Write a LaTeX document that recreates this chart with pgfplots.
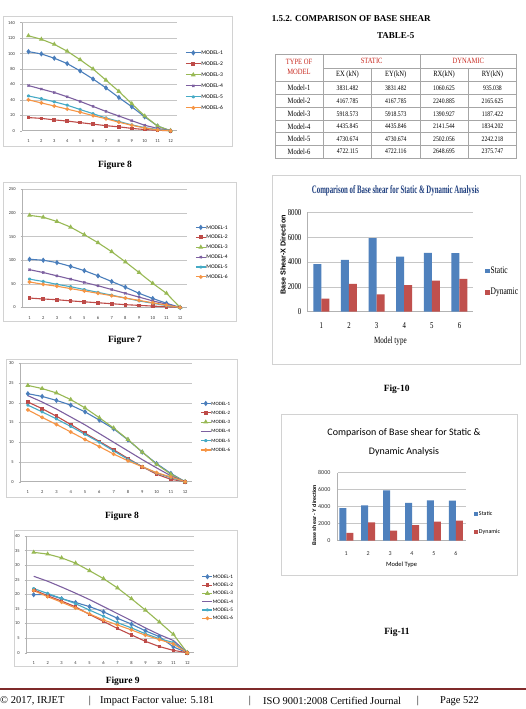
\documentclass[border=0pt]{standalone}
\usepackage{pgfplots}
\pgfplotsset{compat=1.18}
\usepackage{fontspec}
\setmainfont{Liberation Serif}
\newfontfamily\carlito{Carlito}
\newfontfamily\arialf{Liberation Sans}
\newfontfamily\condf[FakeStretch=0.75]{Liberation Serif}
\newfontfamily\titlef[FakeStretch=0.6]{Liberation Serif}
\newfontfamily\tabf[FakeStretch=0.82]{Liberation Serif}
\definecolor{cb}{HTML}{4A7EBB}
\definecolor{cr}{HTML}{BE4B48}
\definecolor{cg}{HTML}{98B954}
\definecolor{cp}{HTML}{7D60A0}
\definecolor{cc}{HTML}{46AAC5}
\definecolor{co}{HTML}{F69545}
\definecolor{barb}{HTML}{4F81BD}
\definecolor{barr}{HTML}{C0504D}
\definecolor{tred}{HTML}{C8281E}
\definecolor{navy}{HTML}{1F3F7F}
\definecolor{footc}{HTML}{7F2A2A}
\pgfplotsset{
  lc/.style={
    scale only axis, anchor=north west, clip=false,
    xmin=0.5, xmax=12.5, xtick={1,...,12}, ymin=0,
    axis lines=left, axis line style={-, draw=gray!60, line width=0.5pt},
    ymajorgrids, grid style={draw=gray!45, line width=0.5pt},
    xtick style={draw=none}, ytick style={draw=gray!60, line width=0.4pt},
    tick align=outside, major tick length=2pt,
    tick label style={font=\carlito\fontsize{4.5}{5}\selectfont, text=black!80},
    xticklabel style={yshift=-3.5pt}, yticklabel style={xshift=-1.5pt},
    /pgf/number format/assume math mode=true,
    every axis plot/.append style={line width=1.1pt, mark options={solid}},
    legend cell align=left,
  },
  lgd/.style n args={4}{legend style={draw=none, fill=none, at={(#1,#2)}, anchor=west, inner sep=0pt,
      font=\carlito\fontsize{#3}{#3}\selectfont, row sep=#4,
      nodes={inner sep=0pt, text height=3.8pt, text depth=0.6pt}}},
  lgl/.style={legend image code/.code={\draw[mark repeat=2,mark phase=2,##1] plot coordinates {(0pt,0pt) (#1/2,0pt) (#1,0pt)};}},
  s1/.style={color=cb, mark=diamond*, mark size=1.8pt},
  s2/.style={color=cr, mark=square*, mark size=1.3pt},
  s3/.style={color=cg, mark=triangle*, mark size=1.7pt},
  s4/.style={color=cp, mark=x, mark size=1.5pt},
  s5/.style={color=cc, mark=asterisk, mark size=1.5pt},
  s6/.style={color=co, mark=*, mark size=1.3pt},
  s4n/.style={color=cp, mark=none},
  bc/.style={
    scale only axis, anchor=north west, ybar=0pt,
    ymin=0, ymax=8000, ytick={0,2000,4000,6000,8000}, xtick={1,...,6},
    axis lines=left, axis line style={-, draw=gray!60, line width=0.5pt},
    ymajorgrids, grid style={draw=gray!45, line width=0.5pt},
    tick style={draw=none}, scaled y ticks=false,
    /pgf/number format/1000 sep={},
    /pgf/number format/assume math mode=true,
    legend cell align=left,
    legend image code/.code={\fill[##1] (0pt,-2.3pt) rectangle (4.6pt,2.3pt);},
  },
}
\begin{document}
\begin{tikzpicture}
\path[use as bounding box, fill=white] (0,0) rectangle (526pt,-709pt);

% ---------- frames ----------
\begin{scope}[draw=gray!35, line width=0.7pt]
\draw (3pt,-16pt) rectangle (232pt,-146pt);
\draw (3pt,-182.3pt) rectangle (236pt,-321pt);
\draw (6pt,-359pt) rectangle (237pt,-497pt);
\draw (14pt,-530pt) rectangle (237pt,-666pt);
\draw (272pt,-175pt) rectangle (520pt,-364pt);
\draw (281.7pt,-414pt) rectangle (517pt,-575pt);
\end{scope}

% ---------- Chart 1 (Figure 8 top) ----------
\begin{axis}[lc, at={(22pt,-22.7pt)}, width=155pt, height=108pt, ymax=140, ytick={0,20,...,140},
  lgd={1.052}{0.466}{5.6}{6.6pt}, lgl=15pt]
\addplot[s1] coordinates {(1,102.5)(2,99.5)(3,94)(4,87)(5,77.5)(6,67)(7,55.5)(8,43)(9,31)(10,18)(11,6)(12,0)};
\addplot[s2] coordinates {(1,17)(2,16)(3,14)(4,12.5)(5,10.5)(6,8.5)(7,6.5)(8,5)(9,3)(10,1.5)(11,0.5)(12,0)};
\addplot[s3] coordinates {(1,123)(2,118.5)(3,112)(4,103)(5,92)(6,80)(7,65.5)(8,51)(9,35)(10,19)(11,6)(12,0)};
\addplot[s4] coordinates {(1,58.5)(2,54)(3,49.5)(4,44)(5,38)(6,31.5)(7,25)(8,19)(9,13)(10,7)(11,3)(12,0)};
\addplot[s5] coordinates {(1,45)(2,41.5)(3,37.5)(4,33)(5,27.5)(6,22)(7,16.5)(8,12)(9,7.5)(10,4)(11,1.5)(12,0)};
\addplot[s6] coordinates {(1,40)(2,36)(3,32)(4,28)(5,24)(6,19.5)(7,15.5)(8,11)(9,7)(10,3.5)(11,1)(12,0)};
\legend{MODEL-1,MODEL-2,MODEL-3,MODEL-4,MODEL-5,MODEL-6}
\end{axis}

% ---------- Chart 2 (Figure 7) ----------
\begin{axis}[lc, at={(22.7pt,-189.3pt)}, width=164.3pt, height=118.2pt, ymax=250, ytick={0,50,...,250},
  lgd={1.049}{0.468}{5.5}{5.5pt}, lgl=10pt]
\addplot[s1] coordinates {(1,102)(2,100)(3,95)(4,87)(5,78)(6,67)(7,55)(8,43)(9,30)(10,19)(11,9)(12,0)};
\addplot[s2] coordinates {(1,20)(2,18)(3,16.5)(4,14)(5,12)(6,10)(7,8)(8,6)(9,4.5)(10,3)(11,1.5)(12,0)};
\addplot[s3] coordinates {(1,195)(2,191)(3,182)(4,170)(5,154)(6,137)(7,118)(8,96.5)(9,74)(10,51)(11,30)(12,0)};
\addplot[s4] coordinates {(1,80)(2,74)(3,67)(4,60)(5,53)(6,46)(7,38)(8,30)(9,22)(10,14)(11,7)(12,0)};
\addplot[s5] coordinates {(1,60)(2,55)(3,49)(4,44)(5,38)(6,32)(7,26)(8,20)(9,14)(10,9)(11,4)(12,0)};
\addplot[s6] coordinates {(1,54)(2,49)(3,45)(4,40)(5,35)(6,30)(7,25)(8,20)(9,15)(10,10)(11,5)(12,0)};
\legend{MODEL-1,MODEL-2,MODEL-3,MODEL-4,MODEL-5,MODEL-6}
\end{axis}

% ---------- Chart 3 (Figure 8 second) ----------
\begin{axis}[lc, at={(20.7pt,-363.3pt)}, width=171.6pt, height=118.4pt, ymax=30, ytick={0,5,...,30},
  lgd={1.045}{0.4645}{4.9}{4.9pt}, lgl=10pt]
\addplot[s1] coordinates {(1,22.3)(2,21.6)(3,20.6)(4,19.4)(5,17.7)(6,15.6)(7,13.4)(8,10.6)(9,7.5)(10,4.6)(11,2.1)(12,0)};
\addplot[s2] coordinates {(1,20.2)(2,18.5)(3,16.6)(4,14.5)(5,12.3)(6,10.2)(7,8.1)(8,5.9)(9,3.8)(10,1.9)(11,0.6)(12,0)};
\addplot[s3] coordinates {(1,24.4)(2,23.6)(3,22.5)(4,20.8)(5,18.7)(6,16.2)(7,13.6)(8,10.7)(9,7.5)(10,4.4)(11,1.9)(12,0)};
\addplot[s4n] coordinates {(1,21.8)(2,20.2)(3,18.4)(4,16.4)(5,14.4)(6,12.2)(7,10)(8,7.8)(9,5.6)(10,3.5)(11,1.5)(12,0)};
\addplot[s5] coordinates {(1,19.4)(2,17.7)(3,15.9)(4,14.0)(5,12.0)(6,10.0)(7,7.8)(8,5.7)(9,3.8)(10,2.2)(11,1.0)(12,0)};
\addplot[s6] coordinates {(1,18.2)(2,16.3)(3,14.5)(4,12.6)(5,10.7)(6,8.9)(7,7.0)(8,5.3)(9,3.8)(10,2.3)(11,1.2)(12,0)};
\legend{MODEL-1,MODEL-2,MODEL-3,MODEL-4,MODEL-5,MODEL-6}
\end{axis}

% ---------- Chart 4 (Figure 9) ----------
\begin{axis}[lc, at={(26.7pt,-536pt)}, width=167.6pt, height=116.7pt, ymax=40, ytick={0,5,...,40},
  lgd={1.044}{0.473}{5.2}{3.9pt}, lgl=10pt]
\addplot[s1] coordinates {(1,19.9)(2,20.0)(3,18.5)(4,17.2)(5,15.8)(6,14.0)(7,11.8)(8,9.8)(9,7.5)(10,5.5)(11,2.0)(12,0)};
\addplot[s2] coordinates {(1,21.6)(2,19.5)(3,17.7)(4,15.7)(5,13.1)(6,10.7)(7,8.3)(8,6.1)(9,3.9)(10,2.1)(11,0.8)(12,0)};
\addplot[s3] coordinates {(1,34.4)(2,33.8)(3,32.5)(4,30.7)(5,28.1)(6,25.4)(7,22.2)(8,18.5)(9,14.6)(10,10.5)(11,6.3)(12,0)};
\addplot[s4n] coordinates {(1,26.2)(2,24.5)(3,22.5)(4,20.4)(5,18.2)(6,15.8)(7,13.4)(8,11.0)(9,8.5)(10,6.2)(11,4.2)(12,0)};
\addplot[s5] coordinates {(1,22.0)(2,20.3)(3,18.6)(4,16.8)(5,14.6)(6,12.5)(7,10.3)(8,8.5)(9,6.5)(10,4.8)(11,3.5)(12,0)};
\addplot[s6] coordinates {(1,21.3)(2,19.2)(3,17.3)(4,15.3)(5,13.3)(6,11.2)(7,9.5)(8,7.8)(9,6.0)(10,4.5)(11,3.0)(12,0)};
\legend{MODEL-1,MODEL-2,MODEL-3,MODEL-4,MODEL-5,MODEL-6}
\end{axis}

% ---------- captions ----------
\begin{scope}[font=\bfseries\fontsize{9.5}{11}\selectfont]
\node at (115pt,-165pt) {Figure 8};
\node at (125pt,-340.7pt) {Figure 7};
\node at (122pt,-516pt) {Figure 8};
\node at (122.7pt,-681pt) {Figure 9};
\node at (396.7pt,-389pt) {Fig-10};
\node at (397pt,-632pt) {Fig-11};
\end{scope}

% ---------- heading and table ----------
\node[anchor=west, font=\bfseries\fontsize{9}{10}\selectfont, inner sep=0pt] at (271.7pt,-18.3pt) {1.5.2. COMPARISON OF BASE SHEAR};
\node[font=\bfseries\fontsize{9}{10}\selectfont] at (395.8pt,-36pt) {TABLE-5};
\begin{scope}[draw=gray!70, line width=0.5pt]
\draw (275pt,-54.3pt) rectangle (516.7pt,-158pt);
\draw (323.3pt,-54.3pt) -- (323.3pt,-158pt);
\draw (420pt,-54.3pt) -- (420pt,-158pt);
\draw (371.7pt,-68pt) -- (371.7pt,-158pt);
\draw (468.3pt,-68pt) -- (468.3pt,-158pt);
\draw (323.3pt,-68pt) -- (516.7pt,-68pt);
\foreach \y in {81.5,94.5,107.5,120.3,132.7,145.3} \draw (275pt,-\y pt) -- (516.7pt,-\y pt);
\end{scope}
\begin{scope}[font=\tabf\fontsize{8}{9}\selectfont]
\node[tred] at (299pt,-61.7pt) {TYPE OF};
\node[tred] at (299pt,-72.3pt) {MODEL};
\node[tred] at (371.7pt,-61.2pt) {STATIC};
\node[tred] at (468.3pt,-61.2pt) {DYNAMIC};
\node at (347.5pt,-75pt) {EX (kN)};
\node at (395.8pt,-75pt) {EY(kN)};
\node at (444pt,-75pt) {RX(kN)};
\node at (492.5pt,-75pt) {RY(kN)};
\node at (299pt,-88pt) {Model-1};
\node at (299pt,-101pt) {Model-2};
\node at (299pt,-113.9pt) {Model-3};
\node at (299pt,-126.5pt) {Model-4};
\node at (299pt,-139pt) {Model-5};
\node at (299pt,-151.7pt) {Model-6};
\end{scope}
\begin{scope}[font=\tabf\fontsize{7}{8}\selectfont]
\node at (347.5pt,-88pt) {3831.482}; \node at (395.8pt,-88pt) {3831.482}; \node at (444pt,-88pt) {1060.625}; \node at (492.5pt,-88pt) {935.038};
\node at (347.5pt,-101pt) {4167.785}; \node at (395.8pt,-101pt) {4167.785}; \node at (444pt,-101pt) {2240.885}; \node at (492.5pt,-101pt) {2165.625};
\node at (347.5pt,-113.9pt) {5918.573}; \node at (395.8pt,-113.9pt) {5918.573}; \node at (444pt,-113.9pt) {1390.927}; \node at (492.5pt,-113.9pt) {1187.422};
\node at (347.5pt,-126.5pt) {4435.845}; \node at (395.8pt,-126.5pt) {4435.846}; \node at (444pt,-126.5pt) {2141.544}; \node at (492.5pt,-126.5pt) {1834.202};
\node at (347.5pt,-139pt) {4730.674}; \node at (395.8pt,-139pt) {4730.674}; \node at (444pt,-139pt) {2502.056}; \node at (492.5pt,-139pt) {2242.218};
\node at (347.5pt,-151.7pt) {4722.115}; \node at (395.8pt,-151.7pt) {4722.116}; \node at (444pt,-151.7pt) {2648.695}; \node at (492.5pt,-151.7pt) {2375.747};
\end{scope}

% ---------- Fig-10 ----------
\node[navy, font=\titlef\bfseries\fontsize{11.4}{12}\selectfont] at (395.5pt,-190.7pt) {Comparison of Base shear for Static \& Dynamic Analysis};
\node[rotate=90, font=\arialf\bfseries\fontsize{7.2}{8}\selectfont] at (283pt,-255pt) {Base Shear-X Direction};
\begin{axis}[bc, at={(307.5pt,-212.3pt)}, width=165.8pt, height=99.4pt, xmin=0.5, xmax=6.5, bar width=8pt,
  tick label style={font=\condf\fontsize{9}{10}\selectfont},
  xticklabel style={yshift=-5pt}, yticklabel style={xshift=-0.5pt},
  xlabel={Model type}, xlabel style={font=\condf\fontsize{9.5}{10}\selectfont, yshift=-2pt},
  legend style={draw=none, fill=none, at={(1.071,0.302)}, anchor=west, inner sep=0pt,
    font=\condf\fontsize{10}{11}\selectfont, row sep=12pt,
    nodes={inner sep=0.8pt, text height=6pt, text depth=1.5pt}}]
\addplot[fill=barb, draw=none] coordinates {(1,3831.482)(2,4167.785)(3,5918.573)(4,4435.845)(5,4730.674)(6,4722.115)};
\addplot[fill=barr, draw=none] coordinates {(1,1060.625)(2,2240.885)(3,1390.927)(4,2141.544)(5,2502.056)(6,2648.695)};
\legend{Static,Dynamic}
\end{axis}

% ---------- Fig-11 ----------
\node[font=\carlito\fontsize{10}{11}\selectfont] at (404pt,-432.7pt) {Comparison of Base shear for Static \&};
\node[font=\carlito\fontsize{10}{11}\selectfont] at (404pt,-452.3pt) {Dynamic Analysis};
\node[rotate=90, font=\arialf\bfseries\fontsize{5.3}{6}\selectfont] at (314.2pt,-515pt) {Base shear - Y direction};
\begin{axis}[bc, at={(337.5pt,-472.7pt)}, width=128.2pt, height=68pt, xmin=0.6, xmax=6.45, bar width=7pt,
  tick label style={font=\carlito\fontsize{6}{7}\selectfont, text=black!80},
  xticklabel style={yshift=-5pt}, yticklabel style={xshift=-1.5pt},
  xlabel={Model Type}, xlabel style={font=\carlito\fontsize{6.5}{7}\selectfont, yshift=0pt},
  legend style={draw=none, fill=none, at={(1.06,0.26)}, anchor=west, inner sep=0pt,
    font=\carlito\fontsize{6}{7}\selectfont, row sep=11pt,
    nodes={inner sep=0.8pt, text height=4.5pt, text depth=1pt}}]
\addplot[fill=barb, draw=none] coordinates {(1,3831.482)(2,4167.785)(3,5918.573)(4,4435.846)(5,4730.674)(6,4722.116)};
\addplot[fill=barr, draw=none] coordinates {(1,935.038)(2,2165.625)(3,1187.422)(4,1834.202)(5,2242.218)(6,2375.747)};
\legend{Static,Dynamic}
\end{axis}

% ---------- footer ----------
\draw[footc, line width=2pt] (0pt,-689.3pt) -- (526pt,-689.3pt);
\begin{scope}[font=\fontsize{10.5}{12}\selectfont, inner sep=0pt]
\node[anchor=west] at (0pt,-701pt) {\textcopyright{} 2017, IRJET};
\node at (90pt,-701pt) {|};
\node[anchor=west] at (100pt,-701pt) {Impact Factor value: 5.181};
\node at (250pt,-701pt) {|};
\node[anchor=west] at (263pt,-701pt) {ISO 9001:2008 Certified Journal};
\node at (418pt,-701pt) {|};
\node[anchor=west] at (440pt,-701pt) {Page 522};
\end{scope}
\end{tikzpicture}
\end{document}
